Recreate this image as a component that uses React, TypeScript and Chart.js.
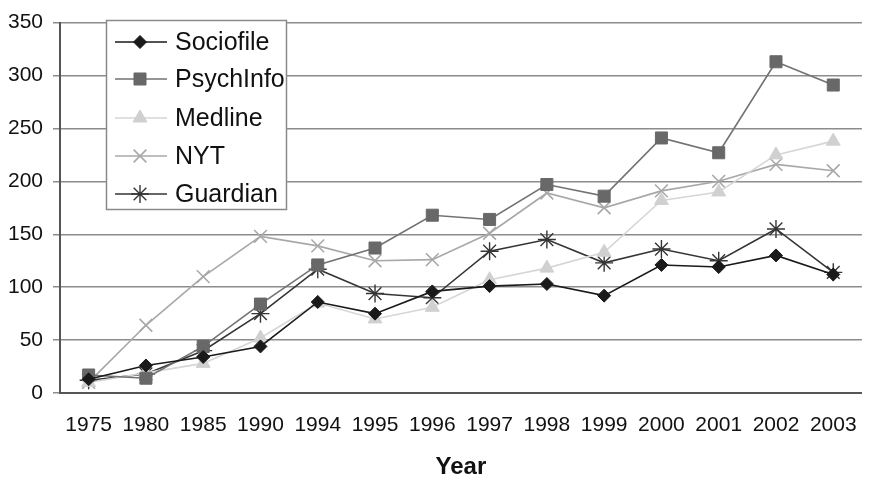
import React, { useEffect, useRef } from "react";
import { Chart, registerables } from "chart.js";
import { drawPoint } from "chart.js/helpers";

Chart.register(...registerables);

const years = ["1975", "1980", "1985", "1990", "1994", "1995", "1996", "1997", "1998", "1999", "2000", "2001", "2002", "2003"];
const sociofile = [13, 26, 34, 44, 86, 75, 96, 101, 103, 92, 121, 119, 130, 112];
const psychinfo = [17, 14, 44, 84, 121, 137, 168, 164, 197, 186, 241, 227, 313, 291];
const medline = [10, 19, 28, 52, 85, 70, 81, 107, 118, 133, 182, 190, 225, 238];
const nyt = [10, 64, 110, 148, 139, 125, 126, 151, 189, 175, 191, 200, 216, 210];
const guardian = [12, 18, 40, 75, 117, 94, 90, 134, 145, 123, 136, 125, 155, 114];
const seriesNames = ["Sociofile", "PsychInfo", "Medline", "NYT", "Guardian"];
const xTitle = "Year";

const FONT = "'Liberation Sans', Arial, sans-serif";

const legendPlugin = {
  id: "boxLegend",
  afterDraw(chart: any) {
    const ctx = chart.ctx;
    const bx = 106.5, by = 20.5, bw = 180, bh = 189;
    ctx.save();
    ctx.fillStyle = "#ffffff";
    ctx.fillRect(bx, by, bw, bh);
    ctx.strokeStyle = "#8a8a8a";
    ctx.lineWidth = 1.5;
    ctx.strokeRect(bx, by, bw, bh);
    const rows = [42, 79, 118, 156, 194];
    chart.data.datasets.forEach((ds: any, i: number) => {
      const y = rows[i];
      ctx.strokeStyle = ds.borderColor;
      ctx.lineWidth = ds.borderWidth;
      ctx.beginPath();
      ctx.moveTo(115, y);
      ctx.lineTo(167, y);
      ctx.stroke();
      ctx.fillStyle = ds.pointBackgroundColor;
      ctx.strokeStyle = ds.pointBorderColor;
      ctx.lineWidth = ds.pointBorderWidth;
      drawPoint(ctx, { pointStyle: ds.pointStyle, radius: ds.pointRadius, rotation: 0, borderWidth: ds.pointBorderWidth }, 140, y);
      ctx.fillStyle = "#111";
      ctx.font = `25px ${FONT}`;
      ctx.textAlign = "left";
      ctx.textBaseline = "middle";
      ctx.fillText(ds.label, 175, y + 1);
    });
    ctx.restore();
  },
};

export default function App() {
  const ref = useRef<HTMLCanvasElement>(null);
  useEffect(() => {
    if (!ref.current) return;
    const mk = (label: string, data: number[], line: string, fill: string, stroke: string, style: string, r: number, bw: number) => ({
      label,
      data,
      borderColor: line,
      borderWidth: 1.6,
      pointBackgroundColor: fill,
      pointBorderColor: stroke,
      pointBorderWidth: bw,
      pointStyle: style,
      pointRadius: r,
      tension: 0,
      fill: false,
    });
    const chart = new Chart(ref.current, {
      type: "line",
      data: {
        labels: years,
        datasets: [
          mk(seriesNames[0], sociofile, "#1a1a1a", "#1a1a1a", "#1a1a1a", "rectRot", 6.5, 1),
          mk(seriesNames[1], psychinfo, "#727272", "#686868", "#686868", "rect", 8.5, 1),
          mk(seriesNames[2], medline, "#d6d6d6", "#d0d0d0", "#d0d0d0", "triangle", 8, 1),
          mk(seriesNames[3], nyt, "#a8a8a8", "#a8a8a8", "#a8a8a8", "crossRot", 9, 1.6),
          mk(seriesNames[4], guardian, "#353535", "#353535", "#353535", "star", 9, 1.4),
        ],
      },
      options: {
        animation: false,
        responsive: false,
        maintainAspectRatio: false,
        layout: { padding: { top: 20, right: 7, left: 0, bottom: 0 } },
        plugins: { legend: { display: false }, tooltip: { enabled: false } },
        scales: {
          x: {
            offset: true,
            grid: { display: false, drawTicks: false },
            border: { display: true, color: "#555", width: 2 },
            ticks: { color: "#111", font: { family: FONT, size: 21 }, padding: 20, maxRotation: 0, autoSkip: false },
            title: { display: true, text: xTitle, color: "#111", font: { family: FONT, size: 24, weight: "bold", lineHeight: 1 }, padding: { top: 0, bottom: 0 } },
            afterFit: (s: any) => { s.height = 86; },
          },
          y: {
            min: 0,
            max: 350,
            ticks: { stepSize: 50, color: "#111", font: { family: FONT, size: 21 }, padding: 10 },
            grid: { color: "#8c8c8c", lineWidth: 1.5, tickLength: 7, drawTicks: true },
            border: { display: true, color: "#555", width: 2 },
            afterFit: (s: any) => { s.width = 60; },
          },
        },
      },
      plugins: [legendPlugin],
    } as any);
    return () => chart.destroy();
  }, []);
  return (
    <div style={{ position: "absolute", left: 0, top: 0, width: 877, height: 479, background: "#fff" }}>
      <canvas ref={ref} width={877} height={479} style={{ width: 877, height: 479, display: "block" }} />
    </div>
  );
}
